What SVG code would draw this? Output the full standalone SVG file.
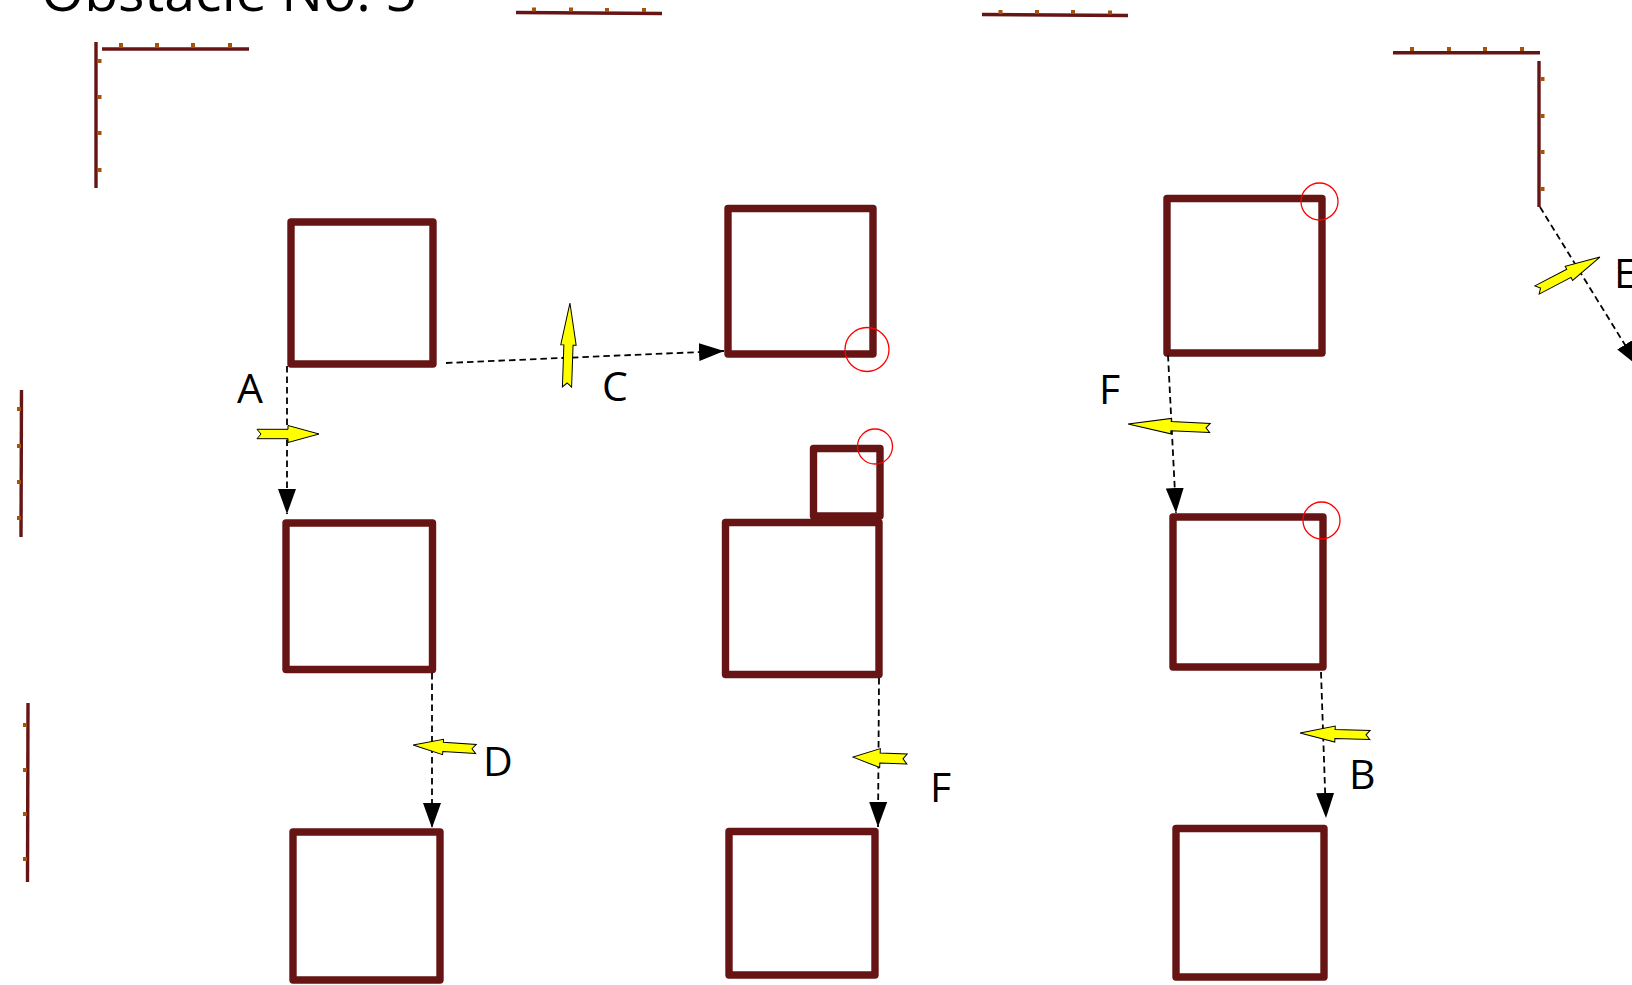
<svg xmlns="http://www.w3.org/2000/svg" width="1632" height="985" viewBox="0 0 1632 985">
<defs>
<style>
.wall{stroke:#671414;stroke-width:3.4;fill:none}
.tick{fill:#A4520C}
.box{fill:none;stroke:#661414;stroke-width:7.4;stroke-linejoin:round}
.mark{fill:none;stroke:#FF0000;stroke-width:1.3}
.conn{fill:none;stroke:#000;stroke-width:1.8;stroke-dasharray:6.5,4}
.ya{fill:#FFFF00;stroke:#000;stroke-width:1}
.lbl{font-family:"Open Sans","Liberation Sans",sans-serif;font-size:41px;fill:#000}
.title{font-family:"Open Sans","Liberation Sans",sans-serif;font-size:54px;fill:#000}
</style>
<marker id="ah" markerUnits="userSpaceOnUse" viewBox="0 0 25 18" refX="25" refY="9" markerWidth="25" markerHeight="18" orient="auto">
<path d="M0,0 L25,9 L0,18 Z" fill="#000"/>
</marker>
</defs>
<rect width="1632" height="985" fill="#fff"/>
<text class="title" x="41" y="11" textLength="376" lengthAdjust="spacingAndGlyphs">Obstacle No. 5</text>

<g id="walls">
<line class="wall" x1="96" y1="42" x2="96" y2="188"/>
<line class="wall" x1="102" y1="49" x2="249" y2="49"/>
<rect class="tick" x="119" y="43" width="4" height="4"/>
<rect class="tick" x="155" y="43" width="4" height="4"/>
<rect class="tick" x="191" y="43" width="4" height="4"/>
<rect class="tick" x="228" y="43" width="4" height="4"/>
<rect class="tick" x="97.5" y="59" width="4" height="4"/>
<rect class="tick" x="97.5" y="95" width="4" height="4"/>
<rect class="tick" x="97.5" y="131" width="4" height="4"/>
<rect class="tick" x="97.5" y="168" width="4" height="4"/>

<line class="wall" x1="516" y1="12.5" x2="662" y2="13.5"/>
<rect class="tick" x="532" y="7.5" width="4" height="4"/>
<rect class="tick" x="569" y="7.5" width="4" height="4"/>
<rect class="tick" x="605" y="8" width="4" height="4"/>
<rect class="tick" x="642" y="8" width="4" height="4"/>

<line class="wall" x1="982" y1="14.5" x2="1128" y2="15.5"/>
<rect class="tick" x="998.5" y="10" width="4" height="4"/>
<rect class="tick" x="1035" y="10" width="4" height="4"/>
<rect class="tick" x="1071" y="10" width="4" height="4"/>
<rect class="tick" x="1108" y="10.5" width="4" height="4"/>

<line class="wall" x1="1393" y1="52.7" x2="1540" y2="52.7"/>
<rect class="tick" x="1410" y="47" width="4" height="4"/>
<rect class="tick" x="1447" y="47" width="4" height="4"/>
<rect class="tick" x="1483" y="47" width="4" height="4"/>
<rect class="tick" x="1520" y="47" width="4" height="4"/>
<line class="wall" x1="1539" y1="61" x2="1539" y2="207"/>
<rect class="tick" x="1540.5" y="77" width="4" height="4"/>
<rect class="tick" x="1540.5" y="114" width="4" height="4"/>
<rect class="tick" x="1540.5" y="150" width="4" height="4"/>
<rect class="tick" x="1540.5" y="187" width="4" height="4"/>

<line class="wall" x1="21.5" y1="390" x2="21" y2="537"/>
<rect class="tick" x="17" y="407" width="4" height="4"/>
<rect class="tick" x="17" y="444" width="4" height="4"/>
<rect class="tick" x="17" y="480" width="4" height="4"/>
<rect class="tick" x="17" y="516" width="4" height="4"/>
<line class="wall" x1="28" y1="703" x2="27.5" y2="882"/>
<rect class="tick" x="23" y="723" width="4" height="4"/>
<rect class="tick" x="23" y="768" width="4" height="4"/>
<rect class="tick" x="23" y="812" width="4" height="4"/>
<rect class="tick" x="23" y="857" width="4" height="4"/>
</g>

<g id="box-a1"><rect class="box" x="291" y="222" width="142" height="142"/></g>
<g id="box-a2"><rect class="box" x="286" y="523" width="146.5" height="146.5"/></g>
<g id="box-a3"><rect class="box" x="293" y="832" width="147" height="148"/></g>
<g id="box-b1"><rect class="box" x="728" y="208.5" width="145" height="145.5"/><circle class="mark" cx="867" cy="349.5" r="22"/></g>
<g id="box-b2"><rect class="box" x="813.5" y="448.5" width="66.5" height="67.5"/><circle class="mark" cx="875" cy="446.5" r="17.5"/></g>
<g id="box-b3"><rect class="box" x="725.5" y="522.5" width="153.5" height="152"/></g>
<g id="box-b4"><rect class="box" x="729" y="831.5" width="146" height="143.5"/></g>
<g id="box-c1"><rect class="box" x="1167" y="198.5" width="155" height="154.5"/><circle class="mark" cx="1319.5" cy="201.5" r="18.5"/></g>
<g id="box-c2"><rect class="box" x="1173" y="517" width="150" height="150"/><circle class="mark" cx="1321.5" cy="520.5" r="18.5"/></g>
<g id="box-c3"><rect class="box" x="1176" y="828.5" width="148" height="148.5"/></g>

<g id="connectors">
<path class="conn" d="M287,366 L287,514" marker-end="url(#ah)"/>
<path class="conn" d="M446,363 L724,351" marker-end="url(#ah)"/>
<path class="conn" d="M432,673 L432,828" marker-end="url(#ah)"/>
<path class="conn" d="M879,678 L878,827" marker-end="url(#ah)"/>
<path class="conn" d="M1168,355 L1176,513" marker-end="url(#ah)"/>
<path class="conn" d="M1321,672 L1326,818" marker-end="url(#ah)"/>
<path class="conn" d="M1540,207 L1638,366" marker-end="url(#ah)"/>
</g>

<g id="forces">
<path class="ya" transform="translate(257,434)" d="M0,-4.7 L31,-4.7 L31,-8.5 L62,0 L31,8.5 L31,4.7 L0,4.7 L4,0 Z"/>
<path class="ya" transform="translate(567,387) rotate(-88)" d="M0,-4.6 L42,-4.6 L42,-7.7 L84,0 L42,7.7 L42,4.6 L0,4.6 L4,0 Z"/>
<path class="ya" transform="translate(476,749) rotate(-176.4)" d="M0,-4.6 L33,-4.6 L33,-7.7 L63,0 L33,7.7 L33,4.6 L0,4.6 L4,0 Z"/>
<path class="ya" transform="translate(907,759) rotate(-178)" d="M0,-5 L27,-5 L27,-9.5 L54,0 L27,9.5 L27,5 L0,5 L4,0 Z"/>
<path class="ya" transform="translate(1210,428) rotate(-177.2)" d="M0,-4.6 L39,-4.6 L39,-7.7 L82,0 L39,7.7 L39,4.6 L0,4.6 L4,0 Z"/>
<path class="ya" transform="translate(1370,735) rotate(-178.4)" d="M0,-4.6 L35,-4.6 L35,-8 L70,0 L35,8 L35,4.6 L0,4.6 L4,0 Z"/>
<path class="ya" transform="translate(1537,290) rotate(-27.6)" d="M0,-4.6 L36,-4.6 L36,-8 L71,0 L36,8 L36,4.6 L0,4.6 L4,0 Z"/>
</g>

<g id="labels">
<text class="lbl" x="237" y="403">A</text>
<text class="lbl" x="602" y="401">C</text>
<text class="lbl" x="483" y="776">D</text>
<text class="lbl" x="930" y="802">F</text>
<text class="lbl" x="1099" y="404">F</text>
<text class="lbl" x="1349" y="789">B</text>
<text class="lbl" x="1614" y="288">E</text>
</g>
</svg>
